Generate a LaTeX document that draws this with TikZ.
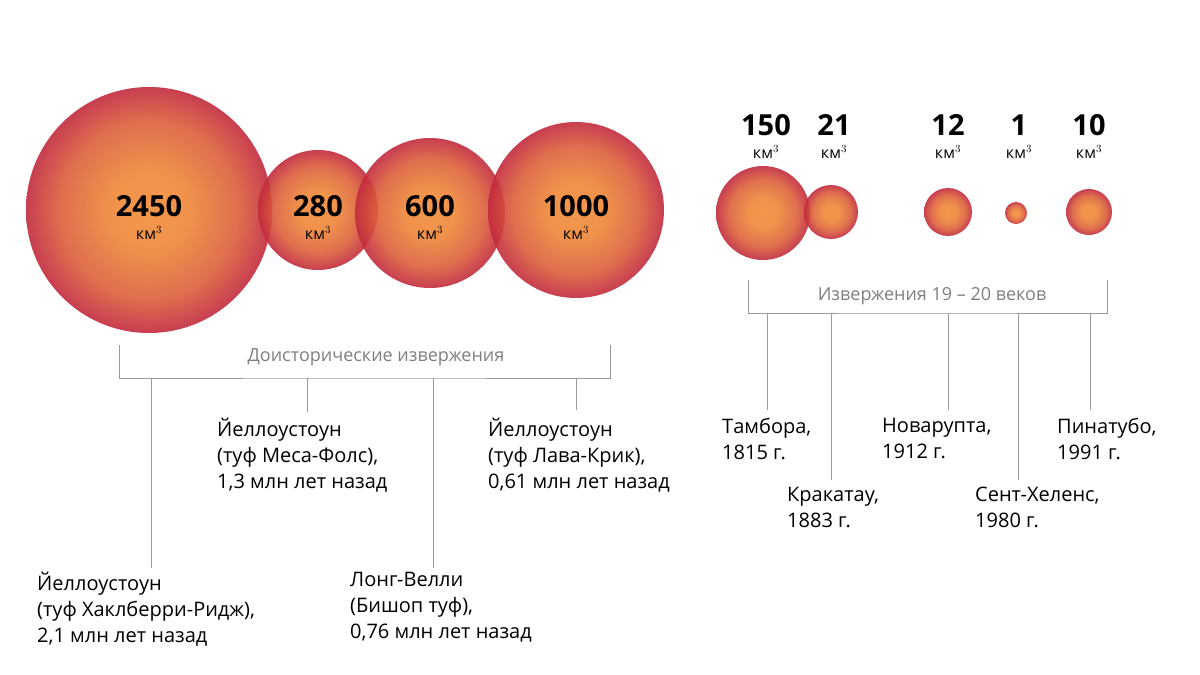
\documentclass[tikz,border=0pt]{standalone}
\usepackage{fontspec}
\setmainfont{Open Sans}
\usetikzlibrary{positioning}
\definecolor{magma}{HTML}{C22A3E}
\definecolor{lava}{HTML}{F28C38}
\definecolor{gline}{HTML}{9A9A9A}
\definecolor{gtext}{HTML}{7F7F7F}
\pgfdeclareradialshading{ember}{\pgfpoint{0bp}{0bp}}{%
  color(0bp)=(lava); color(8bp)=(lava!95!magma); color(18bp)=(lava!55!magma);
  color(25bp)=(magma); color(50bp)=(magma)}
\begin{document}
\begin{tikzpicture}[x=1pt,y=-1pt]
    \useasboundingbox[fill=white] (0,0) rectangle (1200,675);

    \tikzstyle{blob}=[circle,shading=ember,fill opacity=0.9]
    \tikzstyle{vol}=[font=\bfseries\fontsize{29}{29}\selectfont,inner sep=0pt]
    \tikzstyle{unit}=[font=\fontsize{16}{16}\selectfont,inner sep=0pt]
    \tikzstyle{note}=[align=left,anchor=north west,inner sep=0pt,font=\fontsize{20}{26}\selectfont]
    \tikzstyle{era}=[text=gtext,font=\fontsize{18}{18}\selectfont,fill=white,inner sep=3pt]
    \tikzstyle{rule}=[draw=gline,line width=0.9pt]

    % prehistoric eruptions
    \node[blob,minimum size=246pt] (c2450) at (149,210) {};
    \node[blob,minimum size=120pt] (c280) at (318,210) {};
    \node[blob,minimum size=150pt] (c600) at (430,213) {};
    \node[blob,minimum size=176pt] (c1000) at (576,210) {};
    \foreach \n/\x in {2450/149,280/318,600/430,1000/576}{
        \node[vol] (v\n) at (\x,206) {\n};
        \node[unit] (u\n) at (\x,233) {км$^3$};
    }

    % 19th-20th century
    \node[blob,minimum size=94pt] (c150) at (763,213) {};
    \node[blob,minimum size=54pt] (c21) at (831,212) {};
    \node[blob,minimum size=48pt] (c12) at (948,212) {};
    \node[blob,minimum size=22pt] (c1) at (1016,213) {};
    \node[blob,minimum size=46pt] (c10) at (1089,212) {};
    \foreach \n/\x in {150/766,21/834,12/948,1/1019,10/1089}{
        \node[vol] (v\n) at (\x,125) {\n};
        \node[unit] (u\n) at (\x,152) {км$^3$};
    }

    % brackets
    \coordinate (la) at (119,345); \coordinate (lb) at (610,345);
    \draw[rule] (la) |- (364.5,378) -| (lb);
    \node[era] (pre) at (376,357) {Доисторические извержения};
    \coordinate (ra) at (748,280); \coordinate (rb) at (1107,280);
    \draw[rule] (ra) |- (927.5,313) -| (rb);
    \node[era] (hist) at (932,296) {Извержения 19 – 20 веков};

    % captions
    \node[note] (huck) at (37,572) {Йеллоустоун\\(туф Хаклберри-Ридж),\\2,1 млн лет назад};
    \node[note] (mesa) at (217,418) {Йеллоустоун\\(туф Меса-Фолс),\\1,3 млн лет назад};
    \node[note] (long) at (350,572) {Лонг-Велли\\(Бишоп туф),\\0,76 млн лет назад};
    \node[note] (lava) at (488,418) {Йеллоустоун\\(туф Лава-Крик),\\0,61 млн лет назад};
    \node[note] (tamb) at (722,418) {Тамбора,\\1815 г.};
    \node[note] (krak) at (787,487) {Кракатау,\\1883 г.};
    \node[note] (nova) at (882,418) {Новарупта,\\1912 г.};
    \node[note] (sent) at (975,487) {Сент-Хеленс,\\1980 г.};
    \node[note] (pina) at (1057,418) {Пинатубо,\\1991 г.};

    \foreach \x/\y in {151/568,307/412,433/568,576/410}
        \draw[rule] (\x,378) -- (\x,\y);
    \foreach \x/\y in {767/410,831/480,948/410,1018/480,1090/410}
        \draw[rule] (\x,313) -- (\x,\y);
\end{tikzpicture}
\end{document}
